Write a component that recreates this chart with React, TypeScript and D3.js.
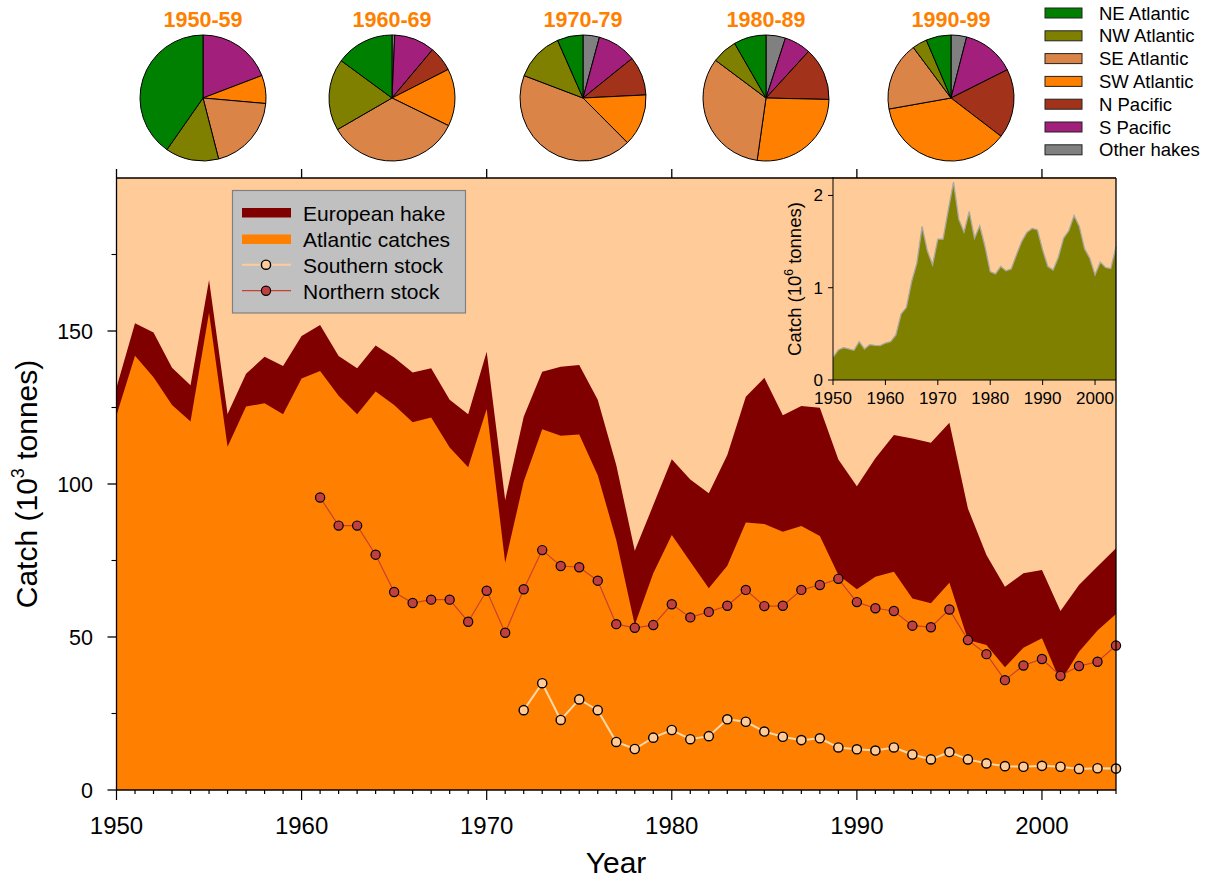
import React from "react";
import * as d3 from "d3";

// ---------- DATA ----------
const firstYear = 1950;
const lastYear = 2004;

// European hake total catch (10^3 t), 1950-2004
const europeanHake = [
  131.5, 152.5, 149.5, 138, 132.3, 166.7, 122.9, 136, 141.6, 138.6,
  148.4, 152, 141.8, 137.8, 145.3, 141.3, 136.4, 137.8, 127.5, 122.8,
  143.2, 94.8, 122, 136.7, 138.3, 138.9, 127.5, 106.2, 78.2, 93.1,
  108.1, 101.5, 97, 109.5, 128.5, 134.7, 122.5, 125.5, 124.9, 108,
  99.3, 108.4, 116, 114.9, 113.5, 120, 92, 76.8, 66.4, 70.8,
  71.9, 58.5, 67, 73, 79,
];

// Atlantic catches (10^3 t), 1950-2004
const atlanticCatches = [
  122.5, 141.9, 134.9, 125.8, 120.4, 156, 112.2, 125.3, 126.4, 122.8,
  134.5, 136.9, 128.8, 122.8, 130.2, 125.8, 120.2, 121.7, 111.9, 105.5,
  124.5, 74.3, 100.8, 117.9, 115.8, 116.2, 102.9, 81.7, 53.9, 70.8,
  83.3, 74.6, 65.9, 73.3, 87.4, 86.9, 84.4, 86.3, 83, 70.3,
  65.6, 69.7, 71.3, 62.6, 61, 67.7, 49, 47.4, 40.1, 46.5,
  49.6, 35.4, 45.2, 52.1, 57.5,
];

// Northern stock (10^3 t), 1961-2004
const northernStartYear = 1961;
const northernStock = [
  95.6, 86.4, 86.4, 76.9, 64.7, 61.1, 62.2, 62.2, 55, 65.1,
  51.4, 65.6, 78.4, 73.2, 72.8, 68.4, 54.2, 53, 53.9, 60.7,
  56.4, 58.2, 60.2, 65.4, 60.1, 60.2, 65.4, 67, 69, 61.4,
  59.4, 58.5, 53.7, 53.2, 59, 49, 44.4, 35.9, 40.7, 42.8,
  37.3, 40.5, 41.9, 47.2,
];

// Southern stock (10^3 t), 1972-2004
const southernStartYear = 1972;
const southernStock = [
  26.1, 34.9, 22.9, 29.6, 26.1, 15.7, 13.4, 17.1, 19.6, 16.6,
  17.6, 23.1, 22.3, 19.1, 17.4, 16.3, 16.9, 13.9, 13.3, 12.9,
  13.9, 11.6, 10, 12.4, 10, 8.7, 7.8, 7.6, 7.9, 7.6,
  6.9, 7.1, 7,
];

// World hake catch (10^6 t), 1950-2004 (inset)
const worldHake = [
  0.246, 0.325, 0.351, 0.336, 0.322, 0.416, 0.336, 0.383, 0.376, 0.372,
  0.401, 0.416, 0.488, 0.716, 0.785, 1.067, 1.266, 1.664, 1.4, 1.248,
  1.526, 1.526, 1.844, 2.145, 1.743, 1.602, 1.826, 1.537, 1.671, 1.447,
  1.175, 1.15, 1.23, 1.183, 1.204, 1.356, 1.5, 1.6, 1.642, 1.627,
  1.41, 1.23, 1.193, 1.331, 1.537, 1.617, 1.783, 1.664, 1.421, 1.32,
  1.139, 1.277, 1.219, 1.208, 1.447,
];

// Pie charts: share (%) by region per decade, legend order
const regions = ["NE Atlantic", "NW Atlantic", "SE Atlantic", "SW Atlantic", "N Pacific", "S Pacific", "Other hakes"];
const regionColors = ["#008000", "#808000", "#DA8547", "#FF8000", "#A3321A", "#A21F7B", "#808080"];
const decadeLabels = ["1950-59", "1960-69", "1970-79", "1980-89", "1990-99"];
const share1950s = [40.3, 13.7, 19.6, 7.2, 0, 19.2, 0];
const share1960s = [14.9, 18.4, 34.4, 14.7, 6.4, 10.4, 0.7];
const share1970s = [6.6, 12.6, 43.2, 13.3, 10, 10, 4.2];
const share1980s = [8.3, 6.5, 33, 26.9, 13.6, 6.8, 5.0];
const share1990s = [6.4, 3.8, 17.6, 36.8, 17.8, 13.6, 4.0];
const decadeShares = [share1950s, share1960s, share1970s, share1980s, share1990s];

const legendLabels = ["European hake", "Atlantic catches", "Southern stock", "Northern stock"];
const yTicksMajor = [0, 50, 100, 150];
const yTicksMinor = [25, 75, 125, 175];
const xTicksMajor = [1950, 1960, 1970, 1980, 1990, 2000];
const insetYTicks = [0, 1, 2];

// ---------- STYLE ----------
const FONT = "Arial, 'Liberation Sans', Helvetica, sans-serif";
const PEACH = "#FFCC99";
const DARKRED = "#800000";
const ORANGE = "#FF8000";

export default function App() {
  const x = d3.scaleLinear().domain([firstYear, lastYear]).range([116.5, 1116]);
  const y = d3.scaleLinear().domain([0, 200]).range([790, 178]);
  const ix = d3.scaleLinear().domain([firstYear, lastYear]).range([833, 1116]);
  const iy = d3.scaleLinear().domain([0, 2.2]).range([380, 177]);

  const years = europeanHake.map((_, i) => firstYear + i);
  const allYears = d3.range(firstYear, lastYear + 1);

  const area = d3
    .area<{ yr: number; v: number }>()
    .x((d) => x(d.yr))
    .y0(y(0))
    .y1((d) => y(d.v));

  const hakePts = europeanHake.map((v, i) => ({ yr: years[i], v }));
  const atlPts = atlanticCatches.map((v, i) => ({ yr: years[i], v }));
  const northPts = northernStock.map((v, i) => ({ yr: northernStartYear + i, v }));
  const southPts = southernStock.map((v, i) => ({ yr: southernStartYear + i, v }));

  const line = d3
    .line<{ yr: number; v: number }>()
    .x((d) => x(d.yr))
    .y((d) => y(d.v));

  const insetPts = worldHake.map((v, i) => ({ yr: years[i], v }));
  const insetArea = d3
    .area<{ yr: number; v: number }>()
    .x((d) => ix(d.yr))
    .y0(iy(0))
    .y1((d) => iy(d.v));
  const insetLine = d3
    .line<{ yr: number; v: number }>()
    .x((d) => ix(d.yr))
    .y((d) => iy(d.v));

  // pies: clockwise from 12 o'clock in reverse legend order
  const pieGen = d3
    .pie<number>()
    .sort(null)
    .value((d) => d);
  const arcGen = d3.arc<d3.PieArcDatum<number>>().innerRadius(0).outerRadius(63);
  const pieCenters = [203, 392, 583, 766, 951];
  const order = regions.map((_, i) => regions.length - 1 - i);

  const plotTop = y(200);
  const plotBottom = y(0);
  const plotLeft = x(firstYear);
  const plotRight = x(lastYear);

  return (
    <svg
      width={1209}
      height={881}
      style={{ position: "absolute", left: 0, top: 0, background: "#fff" }}
      fontFamily={FONT}
    >
      {/* Pies */}
      {decadeShares.map((shares, di) => {
        const vals = order.map((k) => shares[k]);
        const arcs = pieGen(vals);
        return (
          <g key={di} transform={`translate(${pieCenters[di]},98)`}>
            <text
              x={0}
              y={-71}
              textAnchor="middle"
              fontSize={21.5}
              fontWeight="bold"
              fill={ORANGE}
            >
              {decadeLabels[di]}
            </text>
            {arcs.map((a, j) =>
              a.data > 0 ? (
                <path
                  key={j}
                  d={arcGen(a) || ""}
                  fill={regionColors[order[j]]}
                  stroke="#000"
                  strokeWidth={1}
                />
              ) : null
            )}
          </g>
        );
      })}

      {/* Region legend */}
      {regions.map((r, i) => (
        <g key={r} transform={`translate(0,${13 + i * 22.8})`}>
          <rect x={1045} y={-5} width={37} height={10} fill={regionColors[i]} stroke="#222" strokeWidth={1} />
          <text x={1099} y={6.5} fontSize={18.5} fill="#000">
            {r}
          </text>
        </g>
      ))}

      {/* Main plot background */}
      <rect x={plotLeft} y={plotTop} width={plotRight - plotLeft} height={plotBottom - plotTop} fill={PEACH} />
      <path d={area(hakePts) || ""} fill={DARKRED} />
      <path d={area(atlPts) || ""} fill={ORANGE} />

      {/* Northern stock */}
      <path d={line(northPts) || ""} fill="none" stroke="#C8402F" strokeWidth={1.2} />
      {northPts.map((d) => (
        <circle key={"n" + d.yr} cx={x(d.yr)} cy={y(d.v)} r={4.6} fill="#C04040" stroke="#000" strokeWidth={1.2} />
      ))}

      {/* Southern stock */}
      <path d={line(southPts) || ""} fill="none" stroke="#FFD8A8" strokeWidth={2} />
      {southPts.map((d) => (
        <circle key={"s" + d.yr} cx={x(d.yr)} cy={y(d.v)} r={4.6} fill={PEACH} stroke="#000" strokeWidth={1.4} />
      ))}

      {/* Inset */}
      <rect x={ix(firstYear)} y={iy(2.2)} width={ix(lastYear) - ix(firstYear)} height={iy(0) - iy(2.2)} fill={PEACH} />
      <path d={insetArea(insetPts) || ""} fill="#808000" />
      <path d={insetLine(insetPts) || ""} fill="none" stroke="#A8A8A0" strokeWidth={1.3} />
      <line x1={ix(firstYear)} x2={ix(firstYear)} y1={iy(2.2)} y2={iy(0)} stroke="#000" strokeWidth={1} />
      <line x1={ix(firstYear)} x2={ix(lastYear)} y1={iy(0)} y2={iy(0)} stroke="#000" strokeWidth={1} />
      {insetYTicks.map((t) => (
        <g key={"iy" + t}>
          <line x1={ix(firstYear) - 5} x2={ix(firstYear)} y1={iy(t)} y2={iy(t)} stroke="#000" />
          <text x={ix(firstYear) - 10} y={iy(t) + 6} textAnchor="end" fontSize={17}>
            {t}
          </text>
        </g>
      ))}
      {xTicksMajor.map((t) => (
        <g key={"ix" + t}>
          <line x1={ix(t)} x2={ix(t)} y1={iy(0)} y2={iy(0) + 5} stroke="#000" />
          <text x={ix(t)} y={iy(0) + 24} textAnchor="middle" fontSize={17}>
            {t}
          </text>
        </g>
      ))}
      <text transform={`translate(801,279) rotate(-90)`} textAnchor="middle" fontSize={18.5}>
        <tspan>Catch (10</tspan>
        <tspan dy={-8} fontSize={12}>6</tspan>
        <tspan dy={8}> tonnes)</tspan>
      </text>

      {/* Main axes */}
      <line x1={plotLeft} x2={plotLeft} y1={plotTop} y2={plotBottom} stroke="#000" strokeWidth={1.3} />
      <line x1={plotLeft} x2={plotRight} y1={plotBottom} y2={plotBottom} stroke="#000" strokeWidth={1.3} />
      <line x1={plotLeft} x2={plotRight} y1={plotTop} y2={plotTop} stroke="#000" strokeWidth={1.3} />
      <line x1={plotRight} x2={plotRight} y1={plotTop} y2={plotBottom} stroke="#000" strokeWidth={1.3} />

      {yTicksMajor.map((t) => (
        <g key={"y" + t}>
          <line x1={plotLeft - 9} x2={plotLeft} y1={y(t)} y2={y(t)} stroke="#000" strokeWidth={1.3} />
          <text x={93} y={y(t) + 7.5} textAnchor="end" fontSize={21.5}>
            {t}
          </text>
        </g>
      ))}
      {yTicksMinor.map((t) => (
        <line key={"ym" + t} x1={plotLeft - 5} x2={plotLeft} y1={y(t)} y2={y(t)} stroke="#000" strokeWidth={1.1} />
      ))}
      {allYears.map((t) => (
        <line
          key={"xm" + t}
          x1={x(t)}
          x2={x(t)}
          y1={plotBottom}
          y2={plotBottom + (t % 10 === 0 ? 10 : 4)}
          stroke="#000"
          strokeWidth={1.2}
        />
      ))}
      {xTicksMajor.map((t) => (
        <g key={"x" + t}>
          <text x={x(t)} y={834} textAnchor="middle" fontSize={24}>
            {t}
          </text>
          <line x1={x(t)} x2={x(t)} y1={plotTop - 9} y2={plotTop} stroke="#000" strokeWidth={1.3} />
        </g>
      ))}

      {/* Axis titles */}
      <text x={616} y={873} textAnchor="middle" fontSize={30}>
        Year
      </text>
      <text transform={`translate(37,484) rotate(-90)`} textAnchor="middle" fontSize={30}>
        <tspan>Catch (10</tspan>
        <tspan dy={-13} fontSize={18}>3</tspan>
        <tspan dy={13}> tonnes)</tspan>
      </text>

      {/* Main legend */}
      <rect x={232.5} y={190.5} width={233} height={122.5} fill="#C0C0C0" stroke="#808080" strokeWidth={1.2} />
      <rect x={242} y={208} width={49} height={9.5} fill={DARKRED} />
      <rect x={242} y={234.5} width={49} height={9.5} fill={ORANGE} />
      <line x1={242} x2={291} y1={264.7} y2={264.7} stroke={PEACH} strokeWidth={2} />
      <circle cx={266} cy={264.7} r={4.6} fill={PEACH} stroke="#000" strokeWidth={1.4} />
      <line x1={242} x2={291} y1={290.7} y2={290.7} stroke="#C8402F" strokeWidth={1.2} />
      <circle cx={266} cy={290.7} r={4.6} fill="#C04040" stroke="#000" strokeWidth={1.2} />
      {legendLabels.map((l, i) => (
        <text key={l} x={303} y={[220.5, 246.5, 272.5, 298.5][i]} fontSize={21}>
          {l}
        </text>
      ))}
    </svg>
  );
}
